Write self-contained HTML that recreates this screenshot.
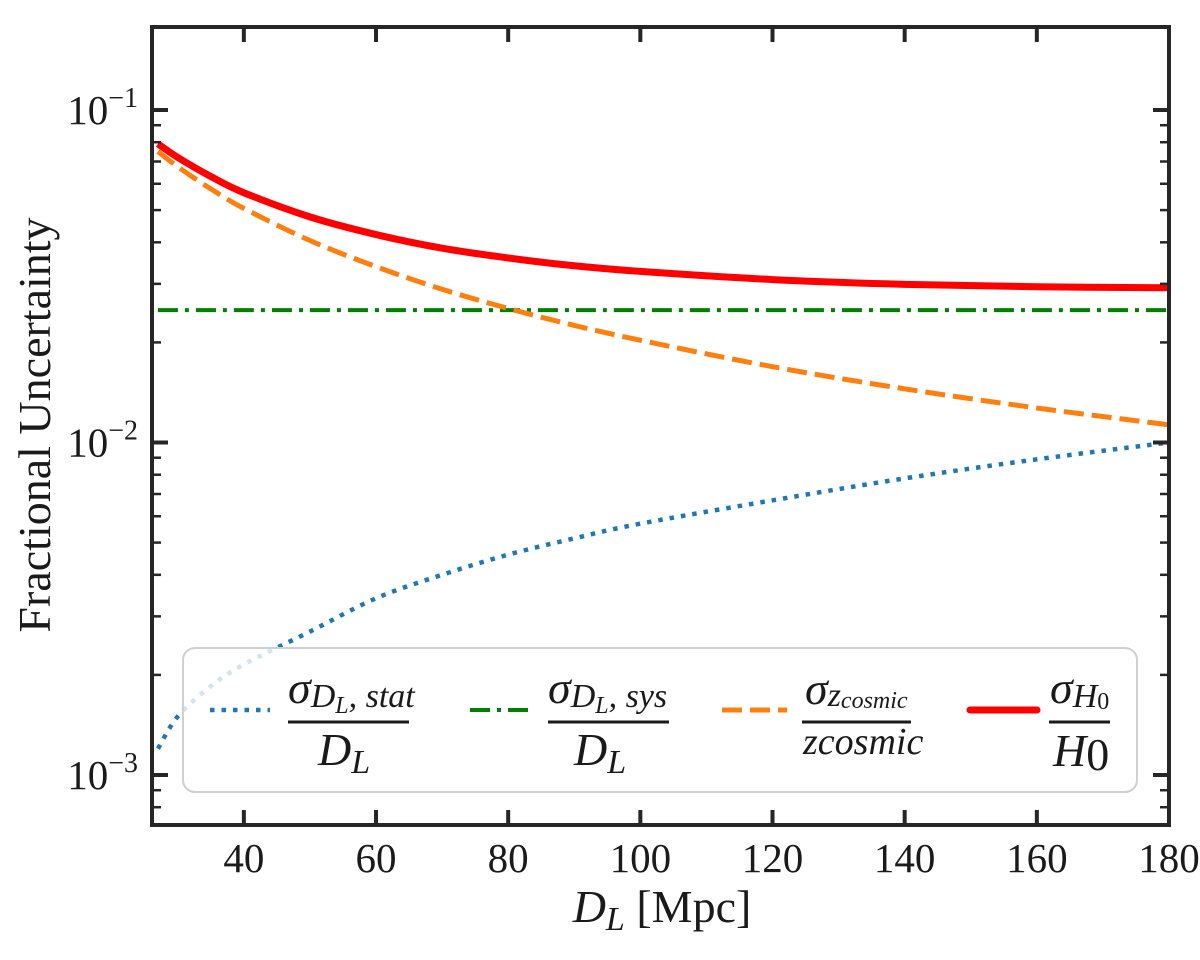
<!DOCTYPE html>
<html><head><meta charset="utf-8"><style>
html,body{margin:0;padding:0;background:#fff;}
svg{display:block;font-family:"Liberation Serif",serif;}
</style></head><body>
<svg id="chart" width="1200" height="960" viewBox="0 0 1200 960" xmlns="http://www.w3.org/2000/svg">
<g id="curves"></g>
<g id="ticks"></g>
<rect x="152" y="27" width="1017" height="798" fill="none" stroke="#262626" stroke-width="4"/>
<g id="legend">
  <rect x="183" y="648" width="954" height="144" rx="12" fill="#fff" fill-opacity="0.8" stroke="#d0d0d0" stroke-width="2"/>
  <g>
    <line x1="210" y1="710" x2="270" y2="710" stroke="#1f77b4" stroke-width="4.5" stroke-dasharray="4.5,7"/>
    <text x="288" y="703" font-size="46" font-style="italic" fill="#1a1a1a">σ<tspan font-size="34" dy="4">D</tspan><tspan font-size="24" dy="6">L</tspan><tspan font-size="34" dy="-6">, stat</tspan></text>
    <line x1="288" y1="722" x2="409" y2="722" stroke="#1a1a1a" stroke-width="3"/>
    <text x="318" y="765" font-size="46" font-style="italic" fill="#1a1a1a">D<tspan font-size="34" dy="8">L</tspan></text>
  </g>
  <g>
    <line x1="470" y1="710" x2="535" y2="710" stroke="#008000" stroke-width="4" stroke-dasharray="20,7,4,7"/>
    <text x="548" y="703" font-size="46" font-style="italic" fill="#1a1a1a">σ<tspan font-size="34" dy="4">D</tspan><tspan font-size="24" dy="6">L</tspan><tspan font-size="34" dy="-6">, sys</tspan></text>
    <line x1="548" y1="722" x2="669" y2="722" stroke="#1a1a1a" stroke-width="3"/>
    <text x="574" y="765" font-size="46" font-style="italic" fill="#1a1a1a">D<tspan font-size="34" dy="8">L</tspan></text>
  </g>
  <g>
    <line x1="722" y1="710" x2="787" y2="710" stroke="#ff7f0e" stroke-width="5" stroke-dasharray="20,8"/>
    <text x="805" y="704" font-size="46" font-style="italic" fill="#1a1a1a">σ<tspan font-size="34" dy="2">z</tspan><tspan font-size="24" dy="2">cosmic</tspan></text>
    <line x1="802" y1="722" x2="911" y2="722" stroke="#1a1a1a" stroke-width="3"/>
    <text x="803" y="754" font-size="38" font-style="italic" fill="#1a1a1a">zcosmic</text>
  </g>
  <g>
    <line x1="970" y1="710" x2="1037" y2="710" stroke="#ff0000" stroke-width="7" stroke-linecap="round"/>
    <text x="1050" y="703" font-size="46" font-style="italic" fill="#1a1a1a">σ<tspan font-size="34" dy="4">H</tspan><tspan font-size="24" dy="2" font-style="normal">0</tspan></text>
    <line x1="1049" y1="722" x2="1110" y2="722" stroke="#1a1a1a" stroke-width="3"/>
    <text x="1053" y="766" font-size="46" font-style="italic" fill="#1a1a1a">H<tspan font-style="normal" dy="4">0</tspan></text>
  </g>
</g>
<text x="662" y="922" font-size="46" text-anchor="middle" fill="#1a1a1a"><tspan font-style="italic">D</tspan><tspan font-style="italic" font-size="34" dy="8">L</tspan><tspan dy="-8"> [Mpc]</tspan></text>
<text transform="translate(50,425) rotate(-90)" font-size="46" text-anchor="middle" fill="#1a1a1a">Fractional Uncertainty</text>
</svg>
<script>
const distances = [27,30,35,40,50,60,70,80,90,100,120,140,160,180];
const statValues = [0.0012,0.0015,0.00185,0.00215,0.0027,0.0034,0.0040,0.0046,0.00515,0.0057,0.0067,0.0078,0.0089,0.0100];
const sysValues = [0.025,0.025,0.025,0.025,0.025,0.025,0.025,0.025,0.025,0.025,0.025,0.025,0.025,0.025];
const cosmicValues = [0.075,0.0675,0.0579,0.0506,0.0405,0.0338,0.0289,0.0253,0.0225,0.0203,0.0169,0.0145,0.0127,0.0113];
const h0Values = [0.0791,0.0720,0.0631,0.0564,0.0477,0.0422,0.0384,0.0359,0.0340,0.0327,0.0309,0.0299,0.0294,0.0292];
const xTicks = [40,60,80,100,120,140,160,180];
const yMajorExps = [-3,-2,-1];

const NS = "http://www.w3.org/2000/svg";
const X0 = 152, X1 = 1169, Y0 = 27, Y1 = 825;
const xMin = 26.1, xMax = 180;
function xs(v){ return X0 + (v - xMin) / (xMax - xMin) * (X1 - X0); }
function ys(v){ return 110 + (-1 - Math.log10(v)) * 332.5; }

function pathFor(vals){
  const p = distances.map((d,i)=>[xs(d), ys(vals[i])]);
  let s = "M" + p[0][0] + "," + p[0][1];
  for (let i=0;i<p.length-1;i++){
    const a=p[i-1]||p[i], b=p[i], c=p[i+1], d=p[i+2]||c;
    const c1x=b[0]+(c[0]-a[0])/6, c1y=b[1]+(c[1]-a[1])/6;
    const c2x=c[0]-(d[0]-b[0])/6, c2y=c[1]-(d[1]-b[1])/6;
    s += " C"+c1x+","+c1y+" "+c2x+","+c2y+" "+c[0]+","+c[1];
  }
  return s;
}
const curves = document.getElementById("curves");
const clip = document.createElementNS(NS,"clipPath"); clip.id="pc";
const cr = document.createElementNS(NS,"rect");
cr.setAttribute("x",X0); cr.setAttribute("y",Y0); cr.setAttribute("width",X1-X0); cr.setAttribute("height",Y1-Y0);
clip.appendChild(cr); curves.appendChild(clip);
curves.setAttribute("clip-path","url(#pc)");
function addCurve(vals, color, w, dash, name){
  const el = document.createElementNS(NS,"path");
  el.setAttribute("d", pathFor(vals));
  el.setAttribute("fill","none");
  el.setAttribute("stroke",color);
  el.setAttribute("stroke-width",w);
  if (dash) el.setAttribute("stroke-dasharray",dash);
  
  
  curves.appendChild(el);
}
addCurve(statValues,"#1f77b4",4.5,"4.5,7","stat-curve");
addCurve(sysValues,"#008000",4,"20,7,4,7","sys-curve");
addCurve(cosmicValues,"#ff7f0e",5,"20,8","cosmic-curve");
addCurve(h0Values,"#ff0000",7,null,"h0-curve");

const ticks = document.getElementById("ticks");
function line(x1,y1,x2,y2,w){
  const l=document.createElementNS(NS,"line");
  l.setAttribute("x1",x1);l.setAttribute("y1",y1);l.setAttribute("x2",x2);l.setAttribute("y2",y2);
  l.setAttribute("stroke","#262626");l.setAttribute("stroke-width",w);
  
  
  ticks.appendChild(l);
}
function txt(x,y,content,anchor,name){
  const t=document.createElementNS(NS,"text");
  t.setAttribute("x",x);t.setAttribute("y",y);t.setAttribute("font-size","41");
  t.setAttribute("text-anchor",anchor);t.setAttribute("fill","#1a1a1a");
  t.innerHTML=content;
  
  
  ticks.appendChild(t);
}
xTicks.forEach(v=>{
  const x=xs(v);
  line(x,Y1,x,Y1-15,4); line(x,Y0,x,Y0+15,4);
  txt(x,872,String(v),"middle","x-tick-label");
});
yMajorExps.forEach(e=>{
  const y=ys(Math.pow(10,e));
  line(X0,y,X0+16,y,4); line(X1,y,X1-16,y,4);
  txt(138,y+14,'10<tspan font-size="28" dy="-17">−'+(-e)+'</tspan>',"end","y-tick-label");
});
for (let e=-4;e<=-1;e++){
  for (let m=2;m<=9;m++){
    const y=ys(m*Math.pow(10,e));
    if (y<Y0+2||y>Y1-2) continue;
    line(X0,y,X0+9,y,2.5); line(X1,y,X1-9,y,2.5);
  }
}
</script>
</body></html>
